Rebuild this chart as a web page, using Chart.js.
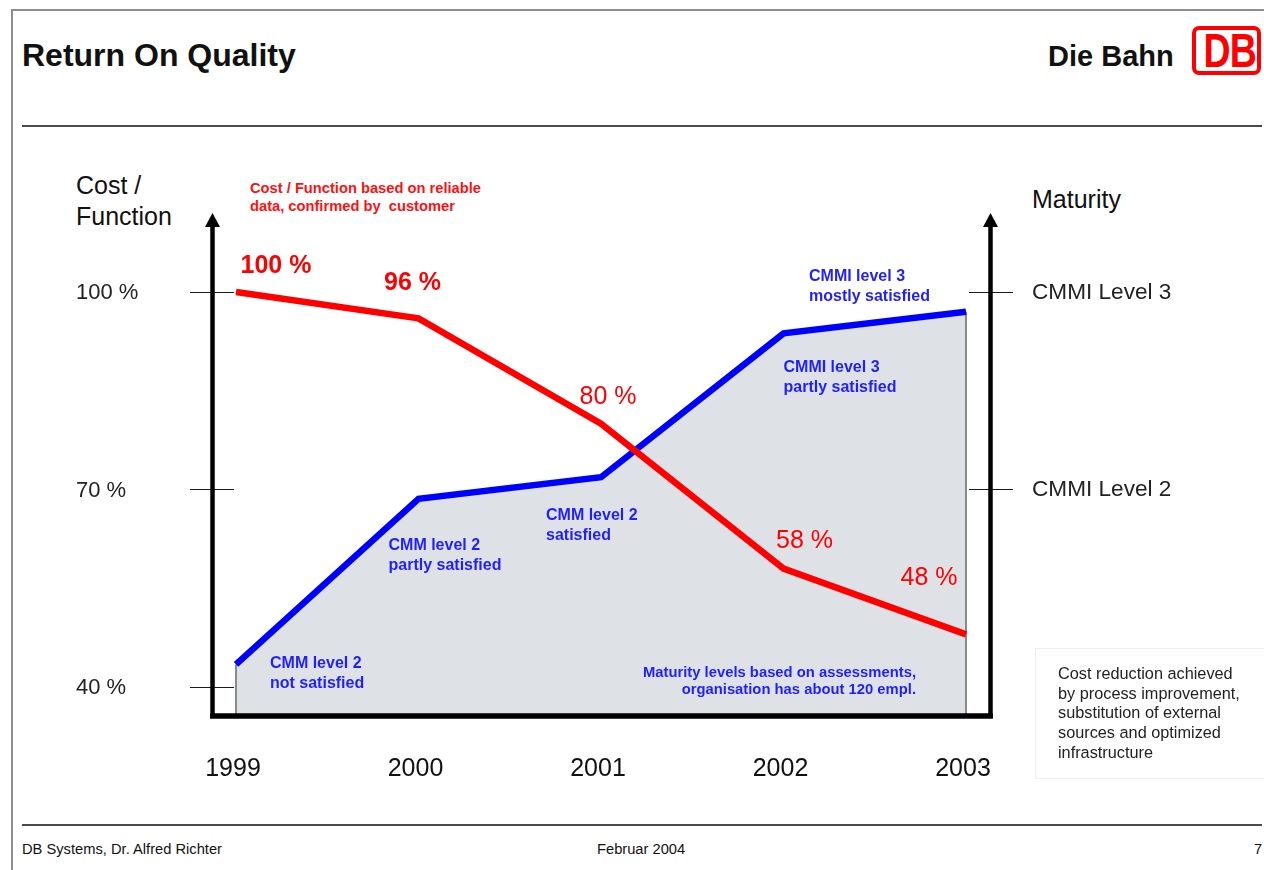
<!DOCTYPE html>
<html>
<head>
<meta charset="utf-8">
<title>Return On Quality</title>
<script src="https://cdn.jsdelivr.net/npm/chart.js@4/dist/chart.umd.min.js"></script>
<style>
  html, body { margin: 0; padding: 0; background: #fff; }
  body { width: 1264px; height: 870px; overflow: hidden; font-family: "Liberation Sans", Arial, sans-serif; }
  #slide { position: relative; width: 1264px; height: 870px; }
  #chart { position: absolute; left: 0; top: 0; }
  .abs { position: absolute; white-space: nowrap; }
  .rule { position: absolute; background: #4a4a4a; }
  .frame { position: absolute; background: #8e8e8e; }
  #title { left: 22px; top: 37px; font-size: 32px; line-height: 36px; font-weight: bold; color: #111; }
  #bahn { left: 1048px; top: 40px; font-size: 29px; line-height: 33px; font-weight: bold; color: #111; }
  #logo { left: 1192px; top: 26px; width: 61px; height: 41px; border: 4.5px solid #ff0000; border-radius: 7px;
          color: #ff0000; font-weight: bold; font-size: 48px; line-height: 41px; text-align: center; }
  #logo span { display: inline-block; transform: scaleX(0.78); letter-spacing: -1px; }
  .foot { top: 840px; font-size: 14.7px; line-height: 18px; color: #111; }
  #note { left: 1035px; top: 648px; width: 232px; height: 129px; border: 1.5px solid #e9eff5; border-right: none; }
  #note div { position: absolute; left: 22px; top: 15px; font-size: 16.3px; line-height: 19.7px; color: #222; white-space: nowrap; }
  .axisTitle { font-size: 25px; line-height: 31px; color: #111; }
  #redNote { left: 250px; top: 179px; font-size: 14.7px; line-height: 18px; font-weight: bold; color: #ff1010; }
</style>
</head>
<body>
<div id="slide">
  <div class="frame" style="left:11px; top:9px; width:1253px; height:2px;"></div>
  <div class="frame" style="left:11px; top:9px; width:2px; height:861px;"></div>
  <div id="title" class="abs">Return On Quality</div>
  <div id="bahn" class="abs">Die Bahn</div>
  <div id="logo" class="abs"><span>DB</span></div>
  <div class="rule" style="left:22px; top:125px; width:1240px; height:2px;"></div>
  <div class="rule" style="left:22px; top:824px; width:1240px; height:2px;"></div>
  <div class="abs foot" style="left:22px;">DB Systems, Dr. Alfred Richter</div>
  <div class="abs foot" style="left:597px;">Februar 2004</div>
  <div class="abs foot" style="left:1254px;">7</div>

  <div class="abs axisTitle" style="left:76px; top:170px;">Cost /<br>Function</div>
  <div class="abs axisTitle" style="left:1032px; top:184px;">Maturity</div>
  <div id="redNote" class="abs">Cost / Function based on reliable<br>data, confirmed by&nbsp; customer</div>

  <canvas id="chart" width="1264" height="870"></canvas>

  <div id="note" class="abs"><div>Cost reduction achieved<br>by process improvement,<br>substitution of external<br>sources and optimized<br>infrastructure</div></div>
</div>

<script>
// Years on the horizontal axis
const categories = ['1999', '2000', '2001', '2002', '2003'];

// Cost per function, in percent of the 1999 level (left axis)
const costValues = [100, 96, 80, 58, 48];
const costLabels = ['100 %', '96 %', '80 %', '58 %', '48 %'];

// Process maturity on the CMM/CMMI scale (right axis, 2 = Level 2, 3 = Level 3)
const maturityValues = [1.11, 1.95, 2.06, 2.79, 2.90];
const maturityNotes = [
  ['CMM level 2', 'not satisfied'],
  ['CMM level 2', 'partly satisfied'],
  ['CMM level 2', 'satisfied'],
  ['CMMI level 3', 'partly satisfied'],
  ['CMMI level 3', 'mostly satisfied']
];

// Axis tick labels
const costTickValues = [40, 70, 100];
const costTickLabels = ['40 %', '70 %', '100 %'];
const maturityTickValues = [2, 3];
const maturityTickLabels = ['CMMI Level 2', 'CMMI Level 3'];

// Presentation: where each text sits relative to its point, and its weight
const costLabelOffsets = [[40, -26], [-6, -35], [7, -27], [21, -27], [-37, -56]];
const costLabelWeights = ['bold', 'bold', 'normal', 'normal', 'normal'];
const maturityNoteOffsets = [[34, -1], [-30, 47], [-55, 38], [0, 34], [-157, -35]];

const FONT = '"Liberation Sans", Arial, sans-serif';
const BLUE_TEXT = '#1f1fff';

const years = categories.map(Number);

// Vertical edges of the shaded maturity area
const areaEdges = {
  id: 'areaEdges',
  beforeDatasetsDraw(chart) {
    const { ctx, scales: { x, yMat }, chartArea: a } = chart;
    ctx.save();
    ctx.strokeStyle = '#8a8a8a';
    ctx.lineWidth = 2;
    [0, years.length - 1].forEach(i => {
      const px = x.getPixelForValue(years[i]);
      const py = yMat.getPixelForValue(maturityValues[i]);
      ctx.beginPath();
      ctx.moveTo(px, py);
      ctx.lineTo(px, a.bottom);
      ctx.stroke();
    });
    ctx.restore();
  }
};

// Axes with arrow heads, tick marks and all chart texts
const slideAxes = {
  id: 'slideAxes',
  afterDatasetsDraw(chart) {
    const { ctx, scales: { x, yCost, yMat }, chartArea: a } = chart;
    const top = a.top;
    ctx.save();

    // thin tick marks crossing the vertical axes
    ctx.strokeStyle = '#1a1a1a';
    ctx.lineWidth = 1.2;
    costTickValues.forEach(v => {
      const py = Math.round(yCost.getPixelForValue(v)) + 0.5;
      ctx.beginPath(); ctx.moveTo(a.left - 22, py); ctx.lineTo(a.left + 22, py); ctx.stroke();
    });
    maturityTickValues.forEach(v => {
      const py = Math.round(yMat.getPixelForValue(v)) + 0.5;
      ctx.beginPath(); ctx.moveTo(a.right - 21, py); ctx.lineTo(a.right + 23, py); ctx.stroke();
    });

    // main axes
    ctx.strokeStyle = '#000';
    ctx.fillStyle = '#000';
    ctx.lineCap = 'butt';
    ctx.lineWidth = 4.5;
    [a.left + 0.5, a.right + 0.5].forEach(px => {
      ctx.beginPath(); ctx.moveTo(px, a.bottom + 3); ctx.lineTo(px, top + 10); ctx.stroke();
      ctx.beginPath();
      ctx.moveTo(px, top - 2);
      ctx.lineTo(px - 7.5, top + 12);
      ctx.lineTo(px + 7.5, top + 12);
      ctx.closePath();
      ctx.fill();
    });
    ctx.lineWidth = 5.5;
    ctx.beginPath(); ctx.moveTo(a.left - 2, a.bottom + 1); ctx.lineTo(a.right + 3, a.bottom + 1); ctx.stroke();

    // tick labels
    ctx.textBaseline = 'middle';
    ctx.textAlign = 'left';
    ctx.fillStyle = '#222';
    ctx.font = '22px ' + FONT;
    costTickValues.forEach((v, i) => ctx.fillText(costTickLabels[i], 76, yCost.getPixelForValue(v) + 1));
    ctx.font = '22.6px ' + FONT;
    maturityTickValues.forEach((v, i) => ctx.fillText(maturityTickLabels[i], a.right + 42, yMat.getPixelForValue(v) + 1));
    ctx.textAlign = 'center';
    ctx.font = '25px ' + FONT;
    ctx.fillStyle = '#111';
    years.forEach((yr, i) => ctx.fillText(categories[i], x.getPixelForValue(yr) - 3, a.bottom + 54));

    // value labels of the cost line
    ctx.fillStyle = '#ff0000';
    costValues.forEach((v, i) => {
      ctx.font = costLabelWeights[i] + ' 25px ' + FONT;
      ctx.fillText(costLabels[i],
        x.getPixelForValue(years[i]) + costLabelOffsets[i][0],
        yCost.getPixelForValue(v) + costLabelOffsets[i][1]);
    });

    // maturity notes
    ctx.textAlign = 'left';
    ctx.fillStyle = BLUE_TEXT;
    ctx.font = 'bold 16px ' + FONT;
    maturityValues.forEach((v, i) => {
      const px = x.getPixelForValue(years[i]) + maturityNoteOffsets[i][0];
      const py = yMat.getPixelForValue(v) + maturityNoteOffsets[i][1];
      maturityNotes[i].forEach((line, k) => ctx.fillText(line, px, py + k * 20));
    });

    ctx.textAlign = 'right';
    ctx.font = 'bold 14.8px ' + FONT;
    ctx.fillText('Maturity levels based on assessments,', 916, 673);
    ctx.fillText('organisation has about 120 empl.', 916, 690);

    ctx.restore();
  }
};

new Chart(document.getElementById('chart'), {
  type: 'line',
  data: {
    datasets: [
      {
        label: 'Cost / Function',
        data: years.map((yr, i) => ({ x: yr, y: costValues[i] })),
        yAxisID: 'yCost',
        borderColor: '#ff0000',
        borderWidth: 6.5,
        pointRadius: 0,
        tension: 0,
        fill: false
      },
      {
        label: 'Maturity',
        data: years.map((yr, i) => ({ x: yr, y: maturityValues[i] })),
        yAxisID: 'yMat',
        borderColor: '#0000ff',
        borderWidth: 6.5,
        backgroundColor: '#dee1e6',
        pointRadius: 0,
        tension: 0,
        fill: 'start'
      }
    ]
  },
  options: {
    responsive: false,
    animation: false,
    layout: { padding: { left: 212, right: 274, top: 215, bottom: 155 } },
    scales: {
      x: { type: 'linear', display: false, min: 1998.8685, max: 2003.1315 },
      yCost: { type: 'linear', display: false, min: 35.747, max: 111.696 },
      yMat: { type: 'linear', display: false, min: 0.8528, max: 3.3909 }
    },
    plugins: {
      legend: { display: false },
      tooltip: { enabled: false },
      filler: { drawTime: 'beforeDatasetsDraw' }
    }
  },
  plugins: [areaEdges, slideAxes]
});
</script>
</body>
</html>
